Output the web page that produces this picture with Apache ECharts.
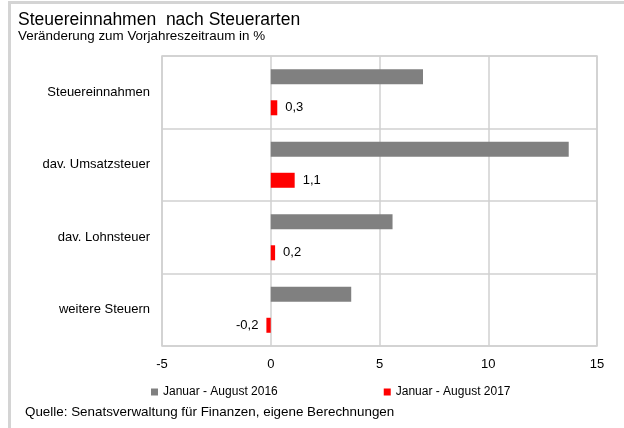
<!DOCTYPE html>
<html>
<head>
<meta charset="utf-8">
<script src="https://cdn.jsdelivr.net/npm/echarts@6/dist/echarts.min.js"></script>
<style>
  html, body { margin: 0; padding: 0; background: #fff; }
  #chart { width: 624px; height: 428px; }
</style>
</head>
<body>
<div id="chart"></div>
<script>
// Tax categories, top to bottom
const categories = ['Steuereinnahmen', 'dav. Umsatzsteuer', 'dav. Lohnsteuer', 'weitere Steuern'];
// Change vs. previous-year period, in percent
const values2016 = [7.0, 13.7, 5.6, 3.7];
const values2017 = [0.3, 1.1, 0.2, -0.2];
const seriesNames = ['Januar - August 2016', 'Januar - August 2017'];
const xTicks = [-5, 0, 5, 10, 15];

const FONT = '"Liberation Sans", Arial, sans-serif';
const GRID_COLOR = '#d0d0d0';

const fmt = v => v.toFixed(1).replace('.', ',');

const chart = echarts.init(document.getElementById('chart'), null, { renderer: 'canvas' });

chart.setOption({
  animation: false,
  textStyle: { fontFamily: FONT, color: '#000' },
  title: {
    left: 13,
    top: 6,
    text: 'Steuereinnahmen  nach Steuerarten',
    textStyle: { fontFamily: FONT, fontSize: 17.5, fontWeight: 'normal', color: '#000' },
    subtext: 'Veränderung zum Vorjahreszeitraum in %',
    subtextStyle: { fontFamily: FONT, fontSize: 13.4, color: '#000' },
    itemGap: 1
  },
  legend: {
    left: 146,
    top: 381,
    itemWidth: 7,
    itemHeight: 7,
    itemGap: 106,
    icon: 'rect',
    textStyle: { fontFamily: FONT, fontSize: 12, color: '#000' },
    data: seriesNames
  },
  grid: {
    left: 162,
    right: 27,
    top: 56,
    bottom: 82,
    show: true,
    borderColor: GRID_COLOR,
    borderWidth: 1.5,
    containLabel: false
  },
  xAxis: {
    type: 'value',
    min: xTicks[0],
    max: xTicks[xTicks.length - 1],
    interval: 5,
    axisLine: { show: false },
    axisTick: { show: false },
    axisLabel: { fontFamily: FONT, fontSize: 13, color: '#000', margin: 12 },
    splitLine: { show: true, lineStyle: { color: GRID_COLOR, width: 1.5 } }
  },
  yAxis: {
    type: 'category',
    inverse: true,
    data: categories,
    axisLine: { show: false },
    axisTick: { show: false },
    axisLabel: { fontFamily: FONT, fontSize: 13, color: '#000', margin: 12 },
    splitLine: { show: true, lineStyle: { color: GRID_COLOR, width: 1.5 } }
  },
  series: [
    {
      name: seriesNames[0],
      type: 'bar',
      barWidth: 15,
      barGap: '107%',
      itemStyle: { color: '#808080' },
      data: values2016
    },
    {
      name: seriesNames[1],
      type: 'bar',
      barWidth: 15,
      itemStyle: { color: '#ff0000' },
      data: values2017.map(v => ({
        value: v,
        label: { position: v < 0 ? 'left' : 'right' }
      })),
      label: {
        show: true,
        distance: 8,
        fontFamily: FONT,
        fontSize: 13,
        color: '#000',
        formatter: p => fmt(p.value)
      }
    }
  ],
  graphic: [
    {
      type: 'line',
      shape: { x1: 9, y1: 2.5, x2: 624, y2: 2.5 },
      style: { stroke: '#d4d4d4', lineWidth: 3 }
    },
    {
      type: 'line',
      shape: { x1: 9.5, y1: 1, x2: 9.5, y2: 428 },
      style: { stroke: '#d4d4d4', lineWidth: 3 }
    },
    {
      type: 'text',
      left: 25,
      top: 406,
      style: {
        text: 'Quelle: Senatsverwaltung für Finanzen, eigene Berechnungen',
        font: '13.4px ' + FONT,
        fill: '#000'
      }
    }
  ]
});
</script>
</body>
</html>
